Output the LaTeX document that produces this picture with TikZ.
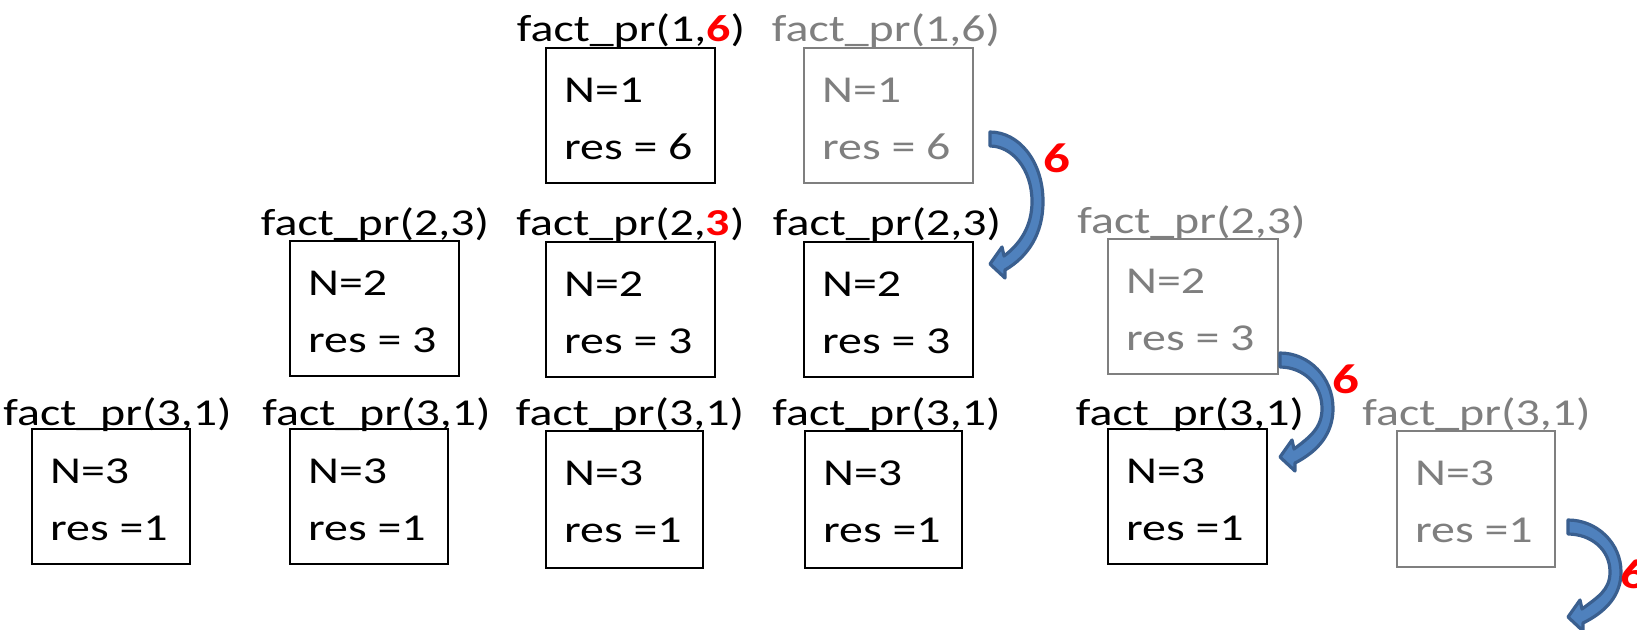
\documentclass[tikz,border=0pt]{standalone}
\usepackage{fontspec}
\setmainfont{Carlito}[FakeStretch=1.26]
\definecolor{dim}{HTML}{7F7F7F}
\definecolor{arrowfill}{HTML}{4F81BD}
\definecolor{arrowline}{HTML}{3A5F8F}
\definecolor{hot}{HTML}{FF0000}

\tikzset{
  frame/.style={draw, line width=1pt, inner sep=0pt, outer sep=0pt},
  txt/.style={inner sep=0pt, anchor=base west, font=\fontsize{19pt}{22pt}\selectfont},
  lbl/.style={inner sep=0pt, anchor=base, font=\fontsize{19pt}{22pt}\selectfont},
  retval/.style={inner sep=0pt, anchor=base west, text=hot, font=\fontsize{21pt}{24pt}\selectfont\bfseries},
  retarrow/.style={fill=arrowfill, draw=arrowline, line width=1.6pt, line join=round},
}

% one stack frame: [colour]{name}{x1}{y1}{x2}{y2}{text indent}{N}{res line}
\newcommand\cbox[9][black]{%
  \node[frame, draw=#1, minimum width={(#5-#3)*0.5pt}, minimum height={(#6-#4)*0.5pt}]
    (#2) at ({(#3+#5)/2},{(#4+#6)/2}) {};
  \node[txt, text=#1] (#2-n) at ([xshift={#7*0.5pt}, yshift=-27pt]#2.north west) {N=#8};
  \node[txt, text=#1] (#2-r) at ([xshift={#7*0.5pt}, yshift=-55.5pt]#2.north west) {#9};
}

% curved return arrow: {tail x}{tail y}{drop}
\newcommand\bentarrow[3]{%
  \filldraw[retarrow, shift={(#1,#2)}]
    (0,-7) .. controls (29,-7) and (53,{0.18*#3}) .. (53,{0.5*#3})
    .. controls (53,{0.76*#3}) and (38,{0.94*#3}) .. (15,{#3+6})
    -- (15,{#3+14}) -- (0,#3) -- (12,{#3-17}) -- (14,{#3-8})
    .. controls (30,{#3-20}) and (42,{0.7*#3}) .. (42,{0.5*#3})
    .. controls (42,{0.24*#3}) and (22,7) .. (0,7) -- cycle;
}

\begin{document}
\begin{tikzpicture}[x=0.5pt, y=-0.5pt]
\fill[white] (0,0) rectangle (1637,629);
\useasboundingbox (0,0) rectangle (1637,629);

% level 1
\node[lbl] (l10) at (631,41.7) {fact\_pr(1,\textbf{\textcolor{hot}{6}})};
\cbox{b10}{546}{48}{715}{183}{17.7}{1}{res = 6}
\node[lbl, text=dim] (l11) at (886,41.7) {fact\_pr(1,6)};
\cbox[dim]{b11}{804}{48}{973}{183}{17.7}{1}{res = 6}

% level 2
\node[lbl] (l20) at (375,235) {fact\_pr(2,3)};
\cbox{b20}{290}{241}{459}{376}{17.7}{2}{res = 3}
\node[lbl] (l21) at (630.5,235) {fact\_pr(2,\textbf{\textcolor{hot}{3}})};
\cbox{b21}{546}{242}{715}{377}{17.7}{2}{res = 3}
\node[lbl] (l22) at (887,235) {fact\_pr(2,3)};
\cbox{b22}{804}{242}{973}{377}{17.7}{2}{res = 3}
\node[lbl, text=dim] (l23) at (1191.5,233) {fact\_pr(2,3)};
\cbox[dim]{b23}{1108}{239}{1278}{374}{17.7}{2}{res = 3}

% level 3
\node[lbl] (l30) at (117.5,425) {fact\_pr(3,1)};
\cbox{b30}{32}{429}{190}{564}{17.7}{3}{res =1}
\node[lbl] (l31) at (376.5,425) {fact\_pr(3,1)};
\cbox{b31}{290}{429}{448}{564}{17.7}{3}{res =1}
\node[lbl] (l32) at (630,425) {fact\_pr(3,1)};
\cbox{b32}{546}{431}{703}{568}{17.7}{3}{res =1}
\node[lbl] (l33) at (886.5,425) {fact\_pr(3,1)};
\cbox{b33}{805}{431}{962}{568}{17.7}{3}{res =1}
\node[lbl] (l34) at (1190,425) {fact\_pr(3,1)};
\cbox{b34}{1108}{429}{1267}{564}{17.7}{3}{res =1}
\node[lbl, text=dim] (l35) at (1476.5,425) {fact\_pr(3,1)};
\cbox[dim]{b35}{1397}{431}{1555}{567}{17.7}{3}{res =1}

% returned values
\bentarrow{990}{139}{125}
\node[retval] (v1) at (1043,172) {6};
\bentarrow{1280}{360}{97}
\node[retval] (v2) at (1332,393) {6};
\bentarrow{1568}{527}{90}
\node[retval] (v3) at (1620,588) {6};
\end{tikzpicture}
\end{document}
